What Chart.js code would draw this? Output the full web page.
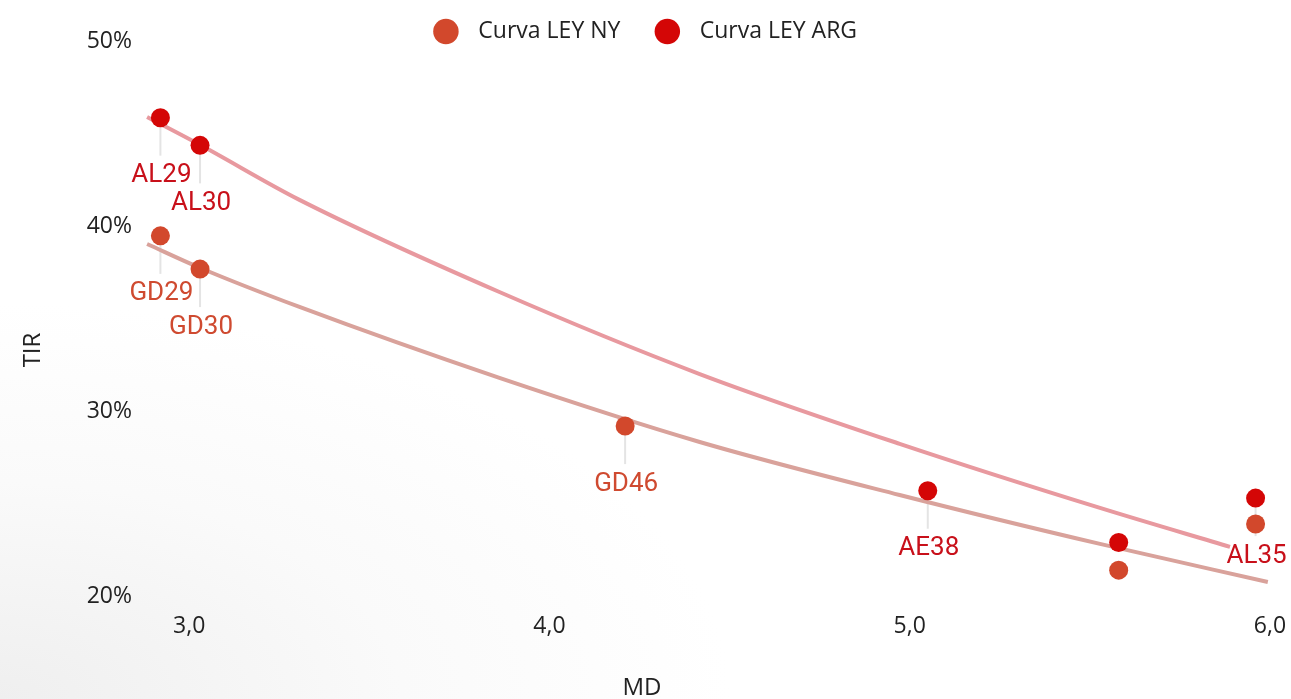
<!DOCTYPE html>
<html>
<head>
<meta charset="utf-8">
<title>Curva LEY NY vs LEY ARG</title>
<script src="https://cdn.jsdelivr.net/npm/chart.js@4.4.1/dist/chart.umd.min.js"></script>
<style>
    html, body { margin: 0; padding: 0; }
    body {
        width: 1291px;
        height: 699px;
        overflow: hidden;
        background: radial-gradient(ellipse at 0% 100%, #efefef 0%, #fafafa 22%, #ffffff 40%);
    }
    #wrap { position: relative; width: 1291px; height: 699px; }
</style>
</head>
<body>
<div id="wrap"><canvas id="curveChart"></canvas></div>
<script>
// Bonos ley NY (MD, TIR %)
const nyMD = [2.92, 3.03, 4.21, 5.58, 5.96];
const nyTIR = [39.5, 37.7, 29.2, 21.4, 23.9];
const nyNames = ['GD29', 'GD30', 'GD46', '', ''];

// Bonos ley ARG
const argMD = [2.92, 3.03, 5.05, 5.58, 5.96];
const argTIR = [45.9, 44.4, 25.7, 22.9, 25.3];
const argNames = ['AL29', 'AL30', 'AE38', '', 'AL35'];

// Trend curves
const argTrendMD = [2.883, 3.031, 3.306, 3.861, 4.417, 4.972, 5.528, 5.889];
const argTrendTIR = [45.94, 44.42, 41.45, 36.46, 32.02, 28.24, 24.77, 22.66];
const nyTrendMD = [2.883, 3.031, 3.306, 3.861, 4.417, 4.972, 5.528, 5.994];
const nyTrendTIR = [39.06, 37.76, 35.65, 31.81, 28.34, 25.47, 22.82, 20.76];

const xTicks = [3, 4, 5, 6];
const yTicks = [20, 30, 40, 50];

const NY_COLOR = '#d2482c';
const ARG_COLOR = '#d40606';

function toPoints(xs, ys) {
    return xs.map((x, i) => ({ x: x, y: ys[i] }));
}

// Labels under the points; leader lines go under the dots
const pointLabels = {
    id: 'pointLabels',
    beforeDatasetsDraw(chart) {
        const ctx = chart.ctx;
        chart.data.datasets.forEach((ds, i) => {
            if (!ds.names) return;
            chart.getDatasetMeta(i).data.forEach((pt, j) => {
                if (!ds.names[j]) return;
                ctx.save();
                ctx.strokeStyle = '#e4e4e4';
                ctx.lineWidth = 2;
                ctx.beginPath();
                ctx.moveTo(pt.x, pt.y);
                ctx.lineTo(pt.x, pt.y + 38);
                ctx.stroke();
                ctx.restore();
            });
        });
    },
    afterDatasetsDraw(chart) {
        const ctx = chart.ctx;
        chart.data.datasets.forEach((ds, i) => {
            if (!ds.names) return;
            chart.getDatasetMeta(i).data.forEach((pt, j) => {
                const name = ds.names[j];
                if (!name) return;
                ctx.save();
                ctx.fillStyle = ds.labelColor;
                ctx.font = '26px Roboto';
                ctx.textAlign = 'center';
                ctx.textBaseline = 'middle';
                ctx.fillText(name, pt.x + 1, pt.y + 58);
                ctx.restore();
            });
        });
    }
};

// Axis titles are centred on the whole picture, not on the plot
const axisTitles = {
    id: 'axisTitles',
    afterDraw(chart) {
        const ctx = chart.ctx;
        ctx.save();
        ctx.fillStyle = '#222';
        ctx.font = '24px "Open Sans"';
        ctx.textAlign = 'center';
        ctx.textBaseline = 'middle';
        ctx.fillText('MD', 642, 688);
        ctx.translate(33, 350);
        ctx.rotate(-Math.PI / 2);
        ctx.fillText('TIR', 0, 0);
        ctx.restore();
    }
};

const ctx = document.getElementById('curveChart').getContext('2d');
new Chart(ctx, {
    type: 'scatter',
    data: {
        datasets: [{
            label: 'Curva LEY NY',
            data: toPoints(nyMD, nyTIR),
            names: nyNames,
            labelColor: '#cf4a30',
            backgroundColor: NY_COLOR,
            borderColor: NY_COLOR,
            pointStyle: 'circle',
            pointRadius: 9.5,
            pointHoverRadius: 9.5,
            borderWidth: 0
        }, {
            label: 'Curva LEY ARG',
            data: toPoints(argMD, argTIR),
            names: argNames,
            labelColor: '#c8101a',
            backgroundColor: ARG_COLOR,
            borderColor: ARG_COLOR,
            pointStyle: 'circle',
            pointRadius: 9.5,
            pointHoverRadius: 9.5,
            borderWidth: 0
        }, {
            label: 'Tendencia NY',
            data: toPoints(nyTrendMD, nyTrendTIR),
            showLine: true,
            borderColor: '#d9a29b',
            borderWidth: 4,
            pointRadius: 0,
            cubicInterpolationMode: 'monotone'
        }, {
            label: 'Tendencia ARG',
            data: toPoints(argTrendMD, argTrendTIR),
            showLine: true,
            borderColor: '#e8999f',
            borderWidth: 4,
            pointRadius: 0,
            cubicInterpolationMode: 'monotone'
        }]
    },
    options: {
        responsive: true,
        maintainAspectRatio: false,
        animation: false,
        layout: {
            padding: { top: 0, right: 21, bottom: 0, left: 24 }
        },
        plugins: {
            tooltip: { enabled: false },
            legend: {
                position: 'top',
                maxHeight: 46,
                labels: {
                    usePointStyle: true,
                    pointStyle: 'circle',
                    boxWidth: 18,
                    boxHeight: 18,
                    padding: 20,
                    color: '#222',
                    font: { family: 'Open Sans', size: 23 },
                    generateLabels: function(chart) {
                        const items = Chart.defaults.plugins.legend.labels.generateLabels(chart);
                        return items
                            .filter(it => chart.data.datasets[it.datasetIndex].names)
                            .map((it, k) => {
                                it.text = '  ' + it.text + (k === 0 ? '   ' : '');
                                return it;
                            });
                    }
                }
            }
        },
        scales: {
            x: {
                type: 'linear',
                min: 2.88,
                max: 6.0,
                afterBuildTicks: scale => { scale.ticks = xTicks.map(v => ({ value: v })); },
                afterFit: scale => { scale.height = 103; },
                grid: { display: false, drawTicks: true, tickLength: 17 },
                border: { display: false },
                ticks: {
                    padding: 0,
                    color: '#222',
                    font: { family: 'Open Sans', size: 23 },
                    callback: value => Number(value).toFixed(1).replace('.', ',')
                }
            },
            y: {
                min: 20,
                max: 49.78,
                afterBuildTicks: scale => { scale.ticks = yTicks.map(v => ({ value: v })); },
                afterFit: scale => { scale.width = 122; },
                grid: { display: false, drawTicks: false },
                border: { display: false },
                ticks: {
                    padding: 14,
                    color: '#222',
                    font: { family: 'Open Sans', size: 23 },
                    callback: value => value + '%'
                }
            }
        }
    },
    plugins: [pointLabels, axisTitles]
});
</script>
</body>
</html>
